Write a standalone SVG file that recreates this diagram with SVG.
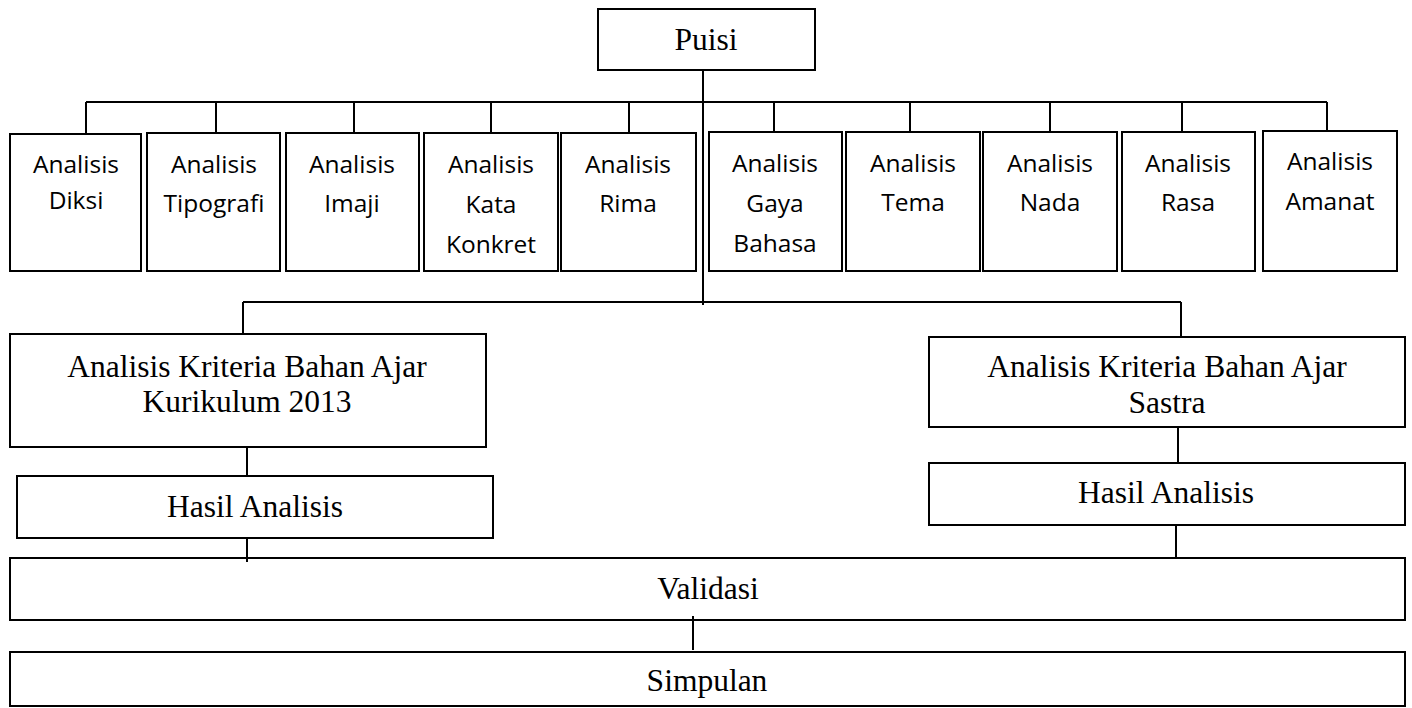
<svg xmlns="http://www.w3.org/2000/svg" width="1412" height="708" viewBox="0 0 1412 708">
<style>
.b{fill:#fff;stroke:#000;stroke-width:2}
.c{fill:none;stroke:#000;stroke-width:2}
.t{font-family:"Liberation Serif","Times New Roman",serif;font-size:31.5px;fill:#000;text-anchor:middle}
.s{font-family:"Open Sans","Noto Sans",sans-serif;font-size:24.5px;fill:#000;text-anchor:middle}
</style>
<rect width="1412" height="708" fill="#fff"/>
<g id="connectors">
<path class="c" d="M703 70V305 M86 102H1327 M86 102V134 M216 102V133 M354 102V133 M491 102V133 M629 102V133 M774 102V132 M910 102V132 M1050 102V132 M1182 102V132 M1327 102V131 M243 302H1181 M243 302V334 M1181 302V337 M247 447V476 M247 538V562 M1178 427V463 M1176 525V559 M693 616V650"/>
</g>
<g id="puisi"><rect class="b" x="598" y="9" width="217" height="61"/><text class="t" x="706" y="50">Puisi</text></g>
<g id="diksi"><rect class="b" x="10" y="134" width="131" height="137"/><text class="s" x="76" y="173">Analisis</text><text class="s" x="76" y="209">Diksi</text></g>
<g id="tipografi"><rect class="b" x="147" y="133" width="133" height="138"/><text class="s" x="214" y="173">Analisis</text><text class="s" x="214" y="212">Tipografi</text></g>
<g id="imaji"><rect class="b" x="286" y="133" width="133" height="138"/><text class="s" x="352" y="173">Analisis</text><text class="s" x="352" y="212">Imaji</text></g>
<g id="kata"><rect class="b" x="424" y="133" width="134" height="138"/><text class="s" x="491" y="173">Analisis</text><text class="s" x="491" y="213">Kata</text><text class="s" x="491" y="253">Konkret</text></g>
<g id="rima"><rect class="b" x="561" y="133" width="135" height="138"/><text class="s" x="628" y="173">Analisis</text><text class="s" x="628" y="212">Rima</text></g>
<g id="gaya"><rect class="b" x="709" y="132" width="133" height="139"/><text class="s" x="775" y="172">Analisis</text><text class="s" x="775" y="212">Gaya</text><text class="s" x="775" y="252">Bahasa</text></g>
<g id="tema"><rect class="b" x="846" y="132" width="134" height="139"/><text class="s" x="913" y="172">Analisis</text><text class="s" x="913" y="211">Tema</text></g>
<g id="nada"><rect class="b" x="983" y="132" width="134" height="139"/><text class="s" x="1050" y="172">Analisis</text><text class="s" x="1050" y="211">Nada</text></g>
<g id="rasa"><rect class="b" x="1122" y="132" width="133" height="139"/><text class="s" x="1188" y="172">Analisis</text><text class="s" x="1188" y="211">Rasa</text></g>
<g id="amanat"><rect class="b" x="1263" y="131" width="134" height="140"/><text class="s" x="1330" y="170">Analisis</text><text class="s" x="1330" y="210">Amanat</text></g>
<g id="kurikulum"><rect class="b" x="10" y="334" width="476" height="113"/><text class="t" x="247" y="377">Analisis Kriteria Bahan Ajar</text><text class="t" x="247" y="412">Kurikulum 2013</text></g>
<g id="hasil1"><rect class="b" x="17" y="476" width="476" height="62"/><text class="t" x="255" y="517">Hasil Analisis</text></g>
<g id="sastra"><rect class="b" x="929" y="337" width="476" height="90"/><text class="t" x="1167" y="377">Analisis Kriteria Bahan Ajar</text><text class="t" x="1167" y="413">Sastra</text></g>
<g id="hasil2"><rect class="b" x="929" y="463" width="476" height="62"/><text class="t" x="1166" y="503">Hasil Analisis</text></g>
<g id="validasi"><rect class="b" x="10" y="558" width="1395" height="62"/><text class="t" x="708" y="599">Validasi</text></g>
<g id="simpulan"><rect class="b" x="10" y="652" width="1395" height="54"/><text class="t" x="707" y="691">Simpulan</text></g>
<path class="c" d="M247 538V562 M1176 525V559 M693 616V650"/>
</svg>
